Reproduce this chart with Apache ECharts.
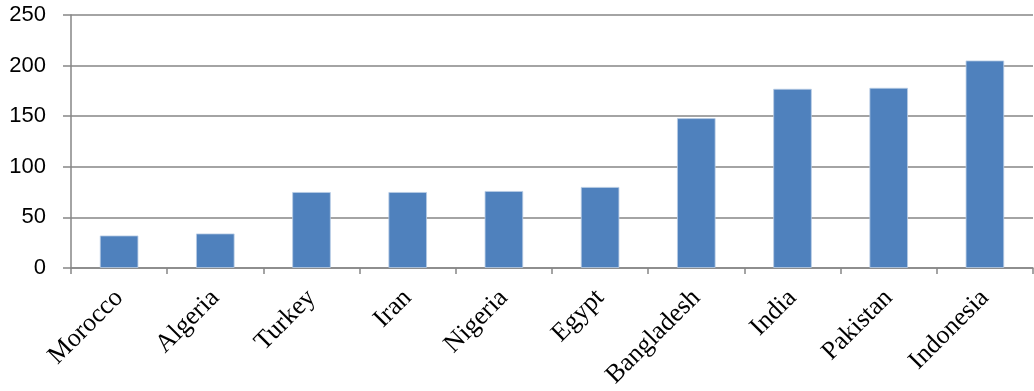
<!DOCTYPE html>
<html>
<head>
<meta charset="utf-8">
<script src="https://cdn.jsdelivr.net/npm/echarts@6/dist/echarts.min.js"></script>
<style>
html, body { margin: 0; padding: 0; background: #fff; }
#chart { width: 1034px; height: 391px; }
</style>
</head>
<body>
<div id="chart"></div>
<script>
// countries and values
var countries = ['Morocco', 'Algeria', 'Turkey', 'Iran', 'Nigeria', 'Egypt', 'Bangladesh', 'India', 'Pakistan', 'Indonesia'];
var values = [32, 34, 75, 75, 76, 80, 148, 177, 178, 205];

var myChart = echarts.init(document.getElementById('chart'));

var option = {
    animation: false,
    grid: {
        left: 71,
        right: 1,
        top: 15,
        bottom: 122
    },
    xAxis: {
        type: 'category',
        data: countries,
        axisLine: { lineStyle: { color: '#868686', width: 1.5 } },
        axisTick: { show: true, length: 6, lineStyle: { color: '#868686', width: 1.5 } },
        axisLabel: {
            rotate: 45,
            margin: 26,
            color: '#000',
            fontFamily: 'Liberation Serif',
            fontSize: 26
        }
    },
    yAxis: {
        type: 'value',
        min: 0,
        max: 250,
        interval: 50,
        axisLine: { show: true, lineStyle: { color: '#868686', width: 1.5 } },
        axisTick: { show: true, length: 8, lineStyle: { color: '#868686', width: 1.5 } },
        splitLine: { lineStyle: { color: '#868686', width: 1.5 } },
        axisLabel: {
            margin: 25,
            color: '#000',
            fontFamily: 'Liberation Sans',
            fontSize: 22
        }
    },
    series: [
        {
            type: 'bar',
            data: values,
            barWidth: '40%',
            itemStyle: {
                color: '#4F81BD',
                borderColor: '#b9cde5',
                borderWidth: 0.8
            }
        }
    ]
};

myChart.setOption(option);
</script>
</body>
</html>
